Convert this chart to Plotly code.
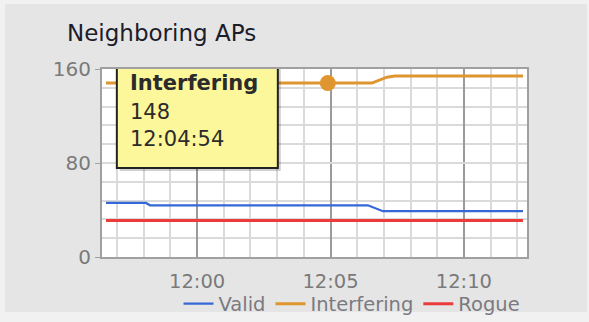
import plotly.graph_objects as go

# Neighboring access points counted over a 16-minute window
DAY = "2024-01-01 "

valid_times = ["11:56:35", "11:58:05", "11:58:14", "12:06:24", "12:06:58", "12:12:13"]
valid_counts = [46, 46, 44, 44, 39, 39]

interfering_times = ["11:56:35", "12:04:54", "12:06:33", "12:07:07", "12:07:25", "12:12:13"]
interfering_counts = [148, 148, 148, 153, 154, 154]

rogue_times = ["11:56:35", "12:12:13"]
rogue_counts = [31, 31]

x_range = ["11:56:26", "12:12:22"]
y_ticks = [0, 80, 160]

# point under the hover box
hover_index = 1

BLUE = "#3468d6"
ORANGE = "#e0962f"
RED = "#ec3b3b"
PANEL = "#e5e5e5"
OUTER = "#f1f1f1"

W, H = 589, 322
ML, MR, MT, MB = 102, 62, 69, 65
PW, PH = W - ML - MR, H - MT - MB


def px_x(p):
    return (p - ML) / PW


def px_y(p):
    return 1 - (p - MT) / PH


def ts(t):
    return DAY + t


fig = go.Figure()

fig.add_trace(go.Scatter(
    x=[ts(t) for t in valid_times], y=valid_counts, name="Valid",
    mode="lines", line=dict(color=BLUE, width=2.2),
))
fig.add_trace(go.Scatter(
    x=[ts(t) for t in interfering_times], y=interfering_counts, name="Interfering",
    mode="lines", line=dict(color=ORANGE, width=3),
))
fig.add_trace(go.Scatter(
    x=[ts(t) for t in rogue_times], y=rogue_counts, name="Rogue",
    mode="lines", line=dict(color=RED, width=3),
))

hx = ts(interfering_times[hover_index])
hy = interfering_counts[hover_index]
fig.add_trace(go.Scatter(
    x=[hx], y=[hy], mode="markers", showlegend=False,
    marker=dict(color=ORANGE, size=16),
))


def strip(x0, x1, y0, y1):
    return dict(type="rect", xref="paper", yref="paper", layer="below",
                x0=px_x(x0), x1=px_x(x1), y0=px_y(y1), y1=px_y(y0),
                fillcolor=OUTER, line=dict(width=0))


shapes = [
    # light frame around the grey panel
    strip(0, W, 0, 4),
    strip(0, W, 312, H),
    strip(0, 5, 0, H),
    strip(587, W, 0, H),
    # hover box shadow
    dict(type="rect", xref="x", yref="y", xsizemode="pixel", ysizemode="pixel",
         xanchor=hx, yanchor=hy, x0=-208, x1=-47, y0=-88, y1=21,
         fillcolor="rgba(0,0,0,0.18)", line=dict(width=0), layer="above"),
    # hover box
    dict(type="rect", xref="x", yref="y", xsizemode="pixel", ysizemode="pixel",
         xanchor=hx, yanchor=hy, x0=-211, x1=-50, y0=-85, y1=24,
         fillcolor="#fbf79a", line=dict(color="#222222", width=2), layer="above"),
]

tip_lines = [
    ("<b>Interfering</b>", 0),
    (str(hy), -29),
    (interfering_times[hover_index], -56),
]
annotations = [
    dict(text=txt, x=hx, y=hy, xref="x", yref="y", showarrow=False,
         xanchor="left", yanchor="middle", xshift=-200, yshift=dy,
         font=dict(family="DejaVu Sans", size=21, color="#2b2b2b"))
    for txt, dy in tip_lines
]
annotations.append(dict(
    text="Neighboring APs", x=px_x(65), y=px_y(33), xref="paper", yref="paper",
    xanchor="left", yanchor="middle", showarrow=False,
    font=dict(family="DejaVu Sans", size=23, color="#1c1c2a"),
))

fig.update_layout(
    width=W, height=H,
    margin=dict(l=ML, r=MR, t=MT, b=MB, autoexpand=False),
    paper_bgcolor=PANEL,
    plot_bgcolor="#ffffff",
    showlegend=True,
    legend=dict(orientation="h", x=px_x(352), y=px_y(304), xanchor="center",
                yanchor="middle", itemwidth=30, bgcolor="rgba(0,0,0,0)",
                font=dict(family="DejaVu Sans", size=19.5, color="#7a7a80"),
                tracegroupgap=0),
    shapes=shapes,
    annotations=annotations,
    font=dict(family="DejaVu Sans"),
)

fig.update_xaxes(
    type="date", range=[ts(x_range[0]), ts(x_range[1])],
    tick0=ts("12:00:00"), dtick=5 * 60 * 1000, tickformat="%H:%M",
    showgrid=True, gridcolor="#9a9a9a", gridwidth=1.5,
    minor=dict(dtick=60 * 1000, tick0=ts("12:00:00"), showgrid=True,
               gridcolor="#dadada", gridwidth=1.5),
    showline=True, linecolor="#a0a0a0", linewidth=2, mirror=True,
    ticks="", ticklabelstandoff=6,
    tickfont=dict(family="DejaVu Sans", size=19.5, color="#7a7a7a"),
    zeroline=False,
)
fig.update_yaxes(
    range=[0, 160], tickvals=y_ticks,
    showgrid=True, gridcolor="#dadada", gridwidth=1.5,
    minor=dict(dtick=16, tick0=0, showgrid=True, gridcolor="#dadada", gridwidth=1.5),
    showline=True, linecolor="#a0a0a0", linewidth=2, mirror=True,
    ticks="outside", ticklen=5, tickcolor="#a0a0a0",
    tickfont=dict(family="DejaVu Sans", size=20, color="#7a7a7a"),
    zeroline=False,
)

fig.write_html("out.html")
